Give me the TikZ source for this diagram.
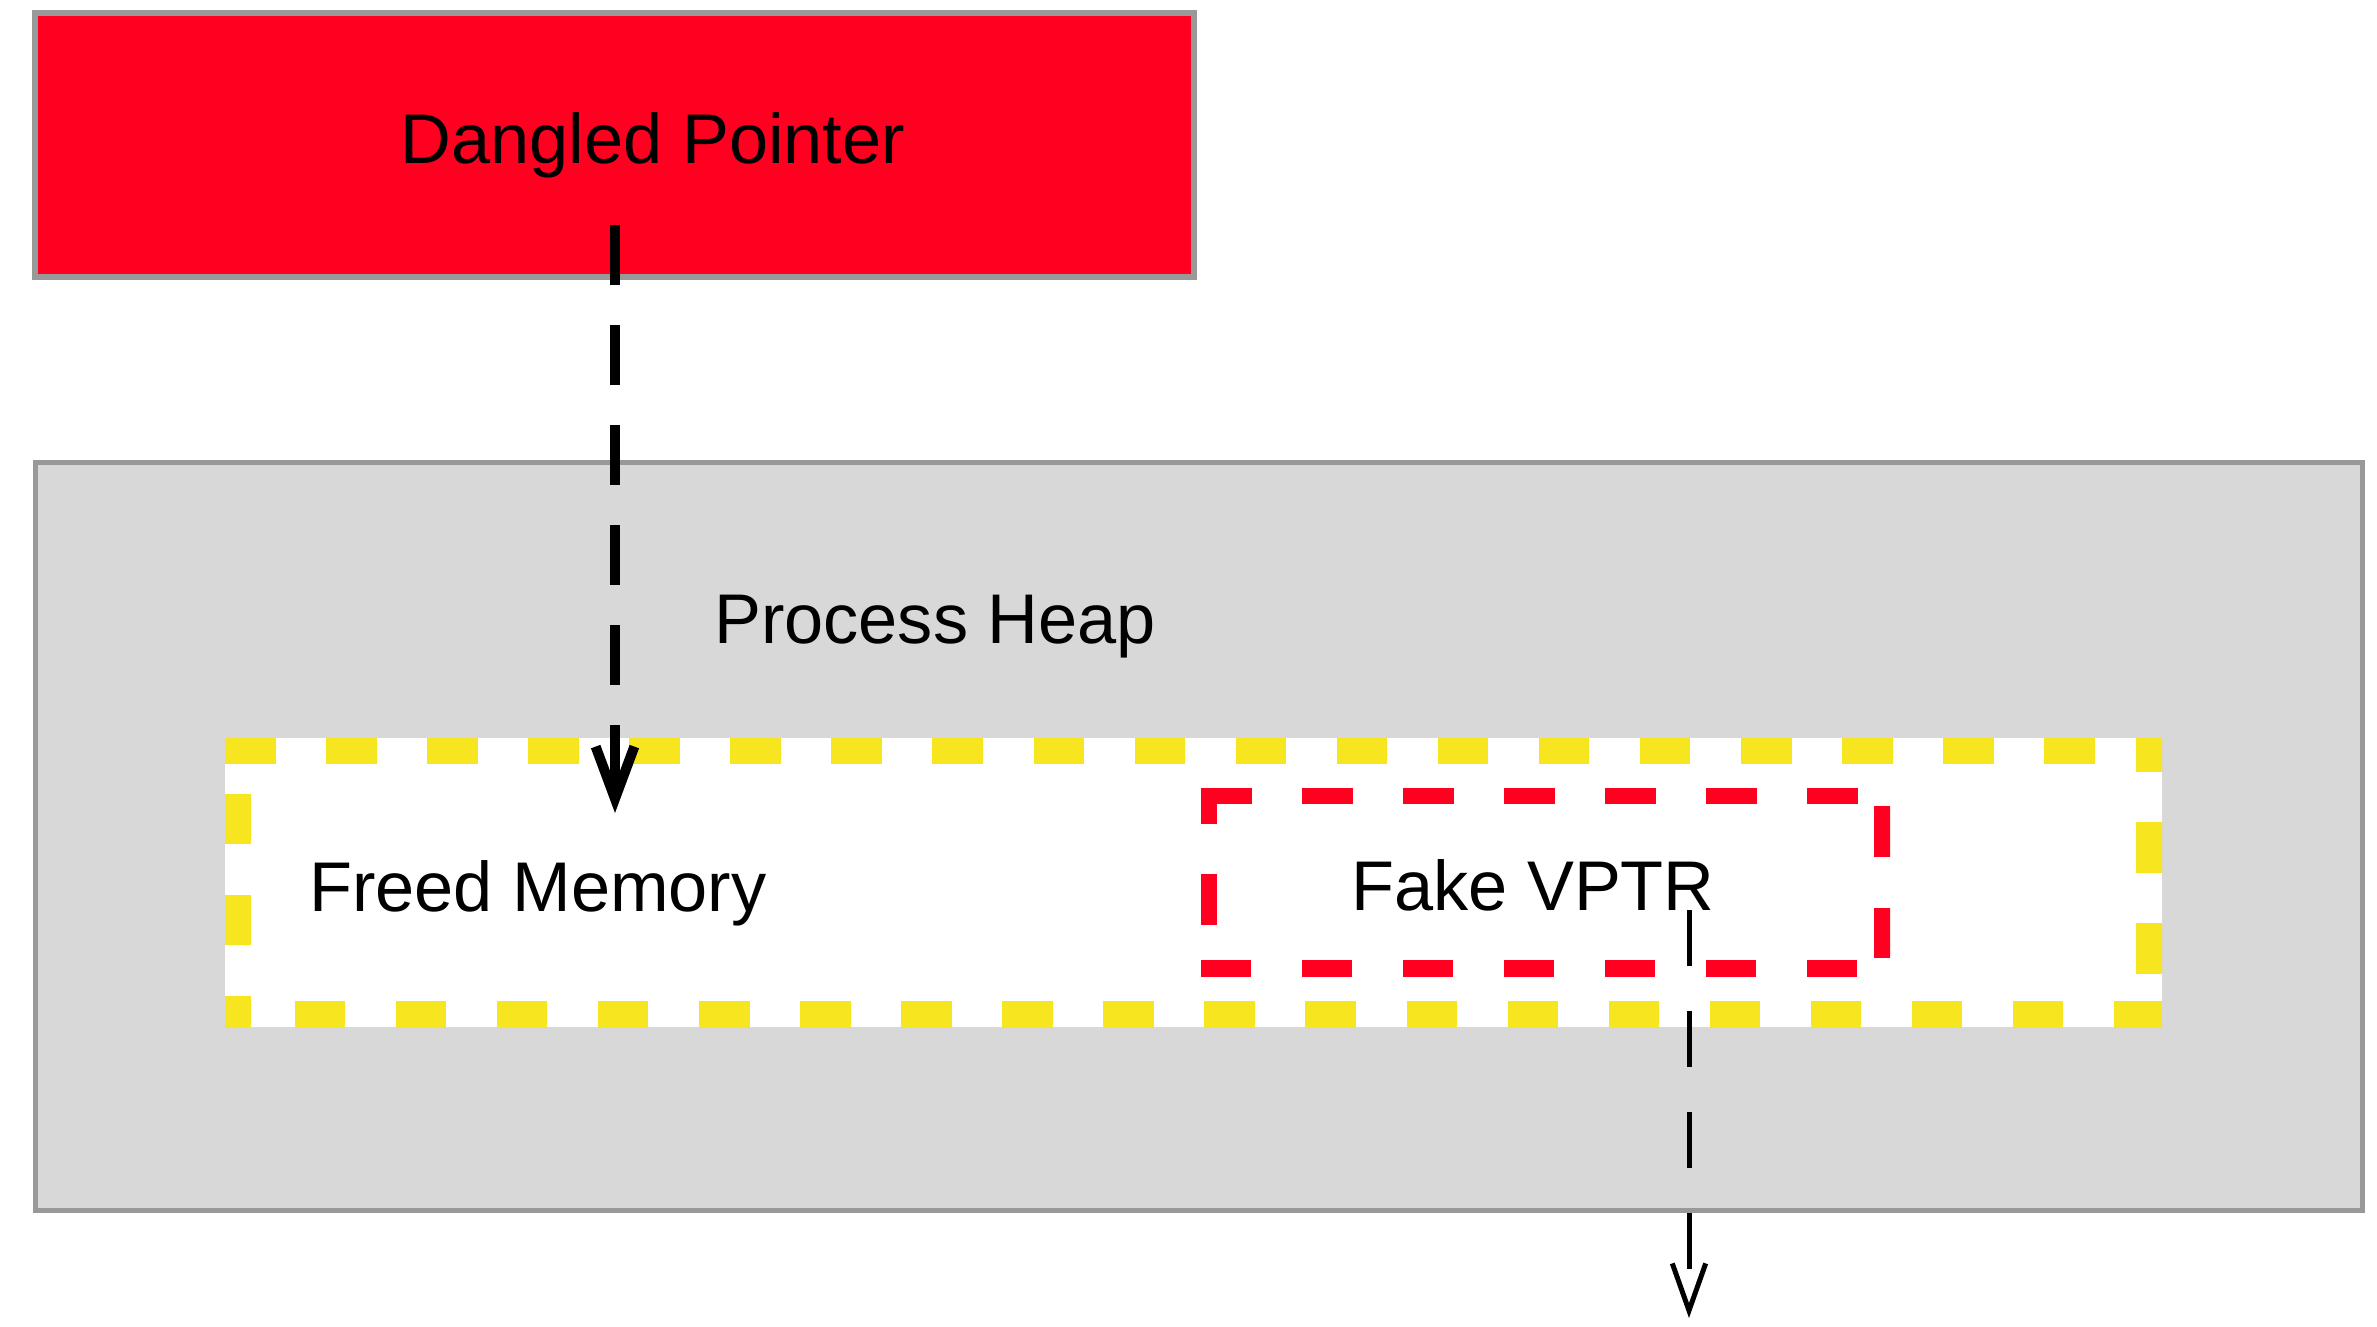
\documentclass[tikz,border=0pt]{standalone}
\usepackage{fontspec}
\setmainfont{Liberation Sans}
\usetikzlibrary{arrows.meta}
\definecolor{dpred}{HTML}{FF0020}
\definecolor{memyellow}{HTML}{F7E61F}
\definecolor{heapgray}{HTML}{D8D8D8}
\definecolor{bordergray}{HTML}{999999}
\begin{document}
\begin{tikzpicture}[x=0.01cm,y=-0.01cm,
  txt/.style={font=\fontsize{20}{24}\selectfont, anchor=base, inner sep=0pt},
  solidbox/.style={draw=bordergray, line width=1.5pt},
  yellowdash/.style={draw=memyellow, line width=14.8pt, dash pattern=on 14.37pt off 14.37pt},
  reddash/.style={draw=dpred, line width=9.1pt, dash pattern=on 14.37pt off 14.37pt},
  ptrarrow/.style={line width=2.85pt, dash pattern=on 17.07pt off 11.38pt,
    -{Straight Barb[length=14.8pt,width=11pt]}},
  vptrarrow/.style={line width=1.42pt, dash pattern=on 15.9pt off 12.8pt,
    -{Straight Barb[length=13.4pt,width=9.5pt]}}]
\useasboundingbox (0,0) rectangle (2377,1326);
\fill[white] (0,0) rectangle (2377,1326);

% Dangled pointer box
\draw[solidbox, fill=dpred] (35,13) rectangle (1194,277);
% Process heap box
\draw[solidbox, fill=heapgray] (35.5,462.5) rectangle (2362.5,1210.5);

% Freed memory box
\fill[white] (225,738) rectangle (2162,1027);
\begin{scope}
  \clip (225,738) rectangle (2162,1027);
  \draw[yellowdash] (225,738) -- (2162,738) -- (2162,1027) -- (225,1027) -- cycle;
\end{scope}
% Fake VPTR box
\begin{scope}
  \clip (1201,788) rectangle (1890,976);
  \draw[reddash] (1201,788) -- (1890,788) -- (1890,976) -- (1201,976) -- cycle;
\end{scope}

% Labels
\node[txt] (dp) at (653,163) {Dangled Pointer};
\node[txt] (heap) at (935,643) {Process Heap};
\node[txt] (freed) at (538,911) {Freed Memory};
\node[txt] (fake) at (1533,910) {Fake VPTR};

% Connectors
\coordinate (dpout) at (615,225);
\coordinate (freedin) at (615,813);
\coordinate (fakeout) at (1689,910);
\coordinate (target) at (1689,1318);
\draw[ptrarrow] (dpout) -- (freedin);
\draw[vptrarrow] (fakeout) -- (target);
\end{tikzpicture}
\end{document}
